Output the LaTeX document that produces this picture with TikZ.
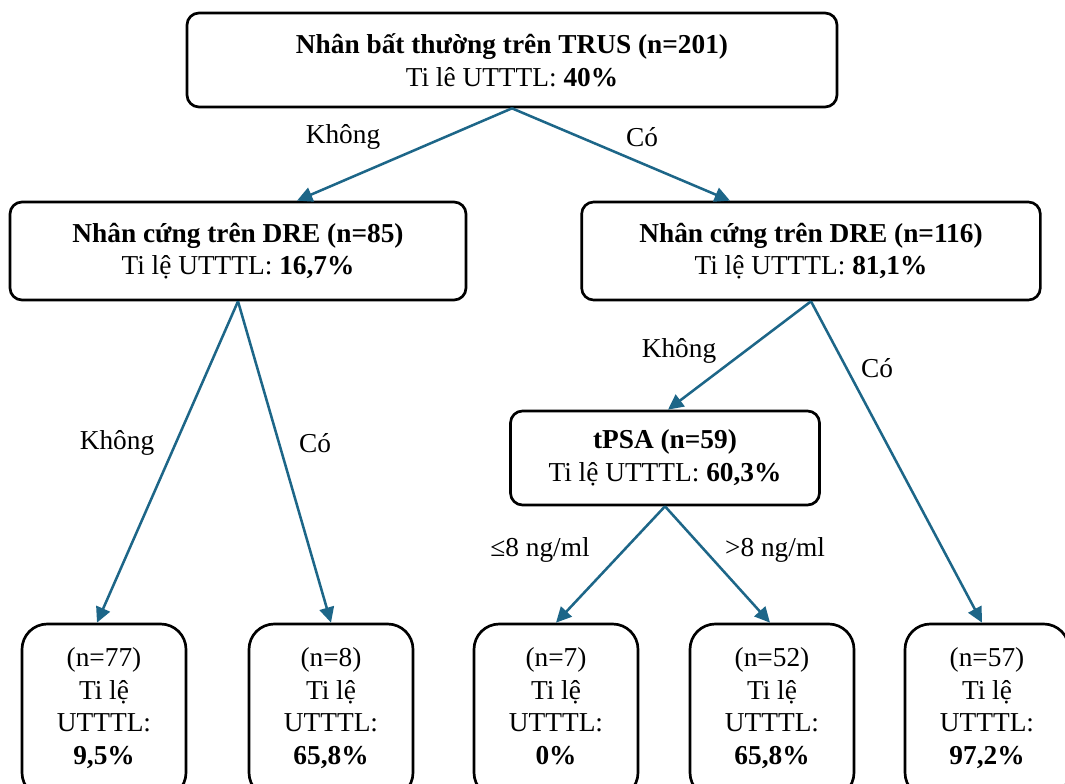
\documentclass[tikz,border=0pt]{standalone}
\usepackage{fontspec}
\setmainfont{Liberation Serif}
\usetikzlibrary{arrows.meta}
\definecolor{arrowblue}{HTML}{1D6688}

\begin{document}
\begin{tikzpicture}[x=0.75pt,y=-0.75pt,
  box/.style={draw=black,line width=2pt,rounded corners=9pt,align=center,inner sep=0pt,font=\fontsize{20.5}{24.5}\selectfont},
  leaf/.style={box,rounded corners=19pt,minimum width=123pt,minimum height=130.5pt},
  arr/.style={draw=arrowblue,line width=1.9pt,-{Triangle[length=11.5pt,width=11pt]}},
  lab/.style={font=\fontsize{20.5}{24}\selectfont}]
\useasboundingbox (0,0) rectangle (1065,784);
% boxes
\node[box,minimum width=487.5pt,minimum height=70.5pt] (trus) at (512,60)
  {\textbf{Nhân bất thường trên TRUS (n=201)}\\Ti lê UTTTL: \textbf{40\%}};
\node[box,minimum width=342pt,minimum height=73.5pt] (dreL) at (238,251)
  {\textbf{Nhân cứng trên DRE (n=85)}\\Ti lệ UTTTL: \textbf{16,7\%}};
\node[box,minimum width=344pt,minimum height=73.5pt] (dreR) at (811,251)
  {\textbf{Nhân cứng trên DRE (n=116)}\\Ti lệ UTTTL: \textbf{81,1\%}};
\node[box,minimum width=231.75pt,minimum height=70.5pt] (psa) at (665,458)
  {\textbf{tPSA (n=59)}\\Ti lệ UTTTL: \textbf{60,3\%}};
\node[leaf] (b1) at (104,711) {(n=77)\\Ti lệ\\UTTTL:\\\textbf{9,5\%}\strut};
\node[leaf] (b2) at (331,711) {(n=8)\\Ti lệ\\UTTTL:\\\textbf{65,8\%}\strut};
\node[leaf] (b3) at (556,711) {(n=7)\\Ti lệ\\UTTTL:\\\textbf{0\%}\strut};
\node[leaf] (b4) at (772,711) {(n=52)\\Ti lệ\\UTTTL:\\\textbf{65,8\%}\strut};
\node[leaf] (b5) at (987,711) {(n=57)\\Ti lệ\\UTTTL:\\\textbf{97,2\%}\strut};
% arrows
\draw[arr] (trus.south) -- ([xshift=44.25pt]dreL.north);
\draw[arr] (trus.south) -- ([xshift=-60.75pt]dreR.north);
\draw[arr] (dreL.south) -- ([xshift=-5.25pt]b1.north);
\draw[arr] (dreL.south) -- (b2.north);
\draw[arr] (dreR.south) -- ([xshift=2.25pt]psa.north);
\draw[arr] (dreR.south) -- ([xshift=-3.75pt]b5.north);
\draw[arr] (psa.south) -- (b3.north);
\draw[arr] (psa.south) -- ([xshift=-1.5pt]b4.north);
% labels
\node[lab] (l1) at (343,137) {Không};
\node[lab] (l2) at (642,137) {Có};
\node[lab] (l3) at (117,443) {Không};
\node[lab] (l4) at (315,443) {Có};
\node[lab] (l5) at (679,351) {Không};
\node[lab] (l6) at (877,368) {Có};
\node[lab] (l7) at (540,550) {≤8 ng/ml};
\node[lab] (l8) at (775,550) {>8 ng/ml};
\end{tikzpicture}
\end{document}
